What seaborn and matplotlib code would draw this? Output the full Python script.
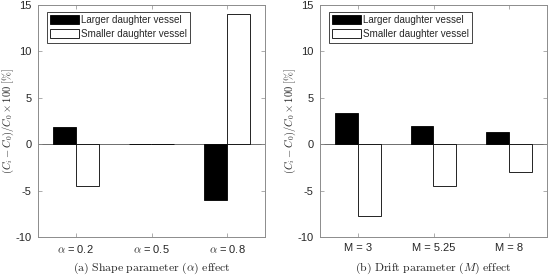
import matplotlib
matplotlib.use("Agg")
import matplotlib.pyplot as plt
import seaborn as sns
import pandas as pd

# ── data ────────────────────────────────────────────────────────────────
series = ["Larger daughter vessel", "Smaller daughter vessel"]

alpha_labels = [r"$\alpha$ = 0.2", r"$\alpha$ = 0.5", r"$\alpha$ = 0.8"]
alpha_larger = [1.9, 0.02, -6.0]
alpha_smaller = [-4.5, -0.02, 14.0]

drift_labels = ["M = 3", "M = 5.25", "M = 8"]
drift_larger = [3.35, 2.0, 1.35]
drift_smaller = [-7.7, -4.5, -3.0]

y_ticks = [-10, -5, 0, 5, 10, 15]

captions = [r"$\mathrm{(a)\ Shape\ parameter\ (}\alpha\mathrm{)\ effect}$",
            r"$\mathrm{(b)\ Drift\ parameter\ (}M\mathrm{)\ effect}$"]
ylabel = r"$(C_i - C_0)/C_0 \times 100\ [\%]$"

sns.set_theme(style="ticks")
plt.rcParams["font.family"] = ["Liberation Sans", "DejaVu Sans"]
plt.rcParams["mathtext.fontset"] = "cm"
plt.rcParams["axes.unicode_minus"] = False
INK = "#262626"
EDGE = "#8c8c8c"


def make_df(labels, larger, smaller):
    return pd.DataFrame({
        "param": labels * 2,
        "value": larger + smaller,
        "vessel": [series[0]] * len(labels) + [series[1]] * len(labels),
    })


fig = plt.figure(figsize=(5.48, 2.8), dpi=100)
ax_a = fig.add_axes([38 / 548, 43 / 280, 227 / 548, 232 / 280])
ax_b = fig.add_axes([320 / 548, 43 / 280, 227 / 548, 232 / 280])

panels = [
    (ax_a, make_df(alpha_labels, alpha_larger, alpha_smaller), alpha_labels, captions[0]),
    (ax_b, make_df(drift_labels, drift_larger, drift_smaller), drift_labels, captions[1]),
]

for ax, df, labels, cap in panels:
    sns.barplot(data=df, x="param", y="value", hue="vessel", order=labels,
                hue_order=series, palette=["black", "white"], edgecolor="black",
                linewidth=0.6, width=0.6, saturation=1, errorbar=None, ax=ax)
    ax.axhline(0, color="#555555", lw=0.6, zorder=0.5)
    ax.set_xlim(-0.5, 2.5)
    ax.set_ylim(-10, 15)
    ax.set_yticks(y_ticks)
    ax.set_yticklabels([str(t) for t in y_ticks])
    ax.set_xlabel("")
    ax.set_ylabel(ylabel, fontsize=7.6, color=INK)
    ax.yaxis.set_label_coords(-21.5 / 227, 0.5)
    ax.tick_params(direction="in", length=3, width=0.5, labelsize=8,
                   color=EDGE, labelcolor=INK, top=True, right=True)
    ax.tick_params(axis="y", pad=4.5)
    ax.tick_params(axis="x", pad=4)
    for s in ax.spines.values():
        s.set_visible(True)
        s.set_linewidth(0.7)
        s.set_color(EDGE)
    leg = ax.legend(loc="upper left", bbox_to_anchor=(9 / 227, 1 - 6.5 / 232),
                    fontsize=7.1, fancybox=False, edgecolor=INK, framealpha=1,
                    handlelength=2.9, handleheight=1.1, borderpad=0.35,
                    labelspacing=0.4, handletextpad=0.15, borderaxespad=0)
    leg.get_frame().set_linewidth(0.6)
    bb = ax.get_position()
    fig.text((bb.x0 + bb.x1) / 2, 1 - 268 / 280, cap, ha="center",
             va="center", fontsize=8.5, color=INK)

fig.savefig("out.png", dpi=100)
